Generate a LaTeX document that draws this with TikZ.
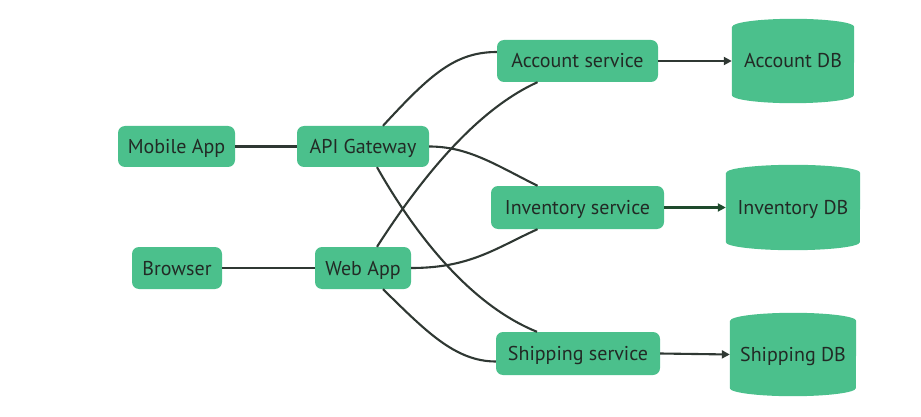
\documentclass[tikz,border=0pt]{standalone}
\usepackage{fontspec}
\setmainfont{PT Sans}
\usetikzlibrary{arrows.meta}
\definecolor{nodegreen}{HTML}{4BC08C}
\definecolor{edgecol}{HTML}{2F3833}
\definecolor{dbarrow}{HTML}{1E4A2C}
\definecolor{txt}{HTML}{222A25}
\tikzset{
  svc/.style={rectangle, rounded corners=7pt, fill=nodegreen, inner sep=0pt,
    font=\fontsize{20}{24}\selectfont, text=txt, text height=14pt, text depth=0pt},
  dbnode/.style={rectangle, inner sep=0pt, font=\fontsize{20}{24}\selectfont, text=txt},
  dblabel/.style={inner sep=0pt, font=\fontsize{20}{24}\selectfont, text=txt, text height=14pt, text depth=0pt},
  link/.style={draw=edgecol, line width=2.1pt},
  arr/.style={draw=edgecol, line width=2.1pt, -{Triangle[length=8pt,width=8pt]}},
}
\begin{document}
\begin{tikzpicture}[x=1pt,y=-1pt]
\useasboundingbox (0,0) rectangle (921,417);
% client nodes
\node[svc, minimum width=117pt, minimum height=41pt] (mob) at (176.5,146.5) {Mobile App};
\node[svc, minimum width=132pt, minimum height=41pt] (gw) at (363,146.5) {API Gateway};
\node[svc, minimum width=90pt, minimum height=42pt] (brw) at (177,268) {Browser};
\node[svc, minimum width=96pt, minimum height=42pt] (web) at (363,268) {Web App};
% services
\node[svc, minimum width=161pt, minimum height=42pt] (acc) at (577.5,61) {Account service};
\node[svc, minimum width=173pt, minimum height=43pt] (inv) at (577.5,207.5) {Inventory service};
\node[svc, minimum width=164pt, minimum height=43pt] (shp) at (578,353.5) {Shipping service};
% databases
\node[dbnode, minimum width=122pt, minimum height=84pt] (adb) at (793,61) {};
\node[dbnode, minimum width=134pt, minimum height=85pt] (idb) at (793,207.5) {};
\node[dbnode, minimum width=126pt, minimum height=83pt] (sdb) at (793,354.5) {};
\foreach \n/\r in {adb/61, idb/67, sdb/63}{
  \fill[nodegreen] ([yshift=-8pt]\n.north west) -- ([yshift=8pt]\n.south west)
    arc[start angle=180, end angle=360, x radius=\r pt, y radius=8pt]
    -- ([yshift=-8pt]\n.north east)
    arc[start angle=0, end angle=180, x radius=\r pt, y radius=8pt] -- cycle;
}
\node[dblabel] (adbt) at (adb) {Account DB};
\node[dblabel] (idbt) at (idb) {Inventory DB};
\node[dblabel] (sdbt) at (sdb) {Shipping DB};
% straight links
\draw[link] (mob) -- (gw);
\draw[link] (brw) -- (web);
% curves
\draw[link] ([xshift=20pt]gw.north) .. controls +(47,-51) and +(-42,0) .. ([yshift=9pt]acc.west);
\draw[link] (gw.east) .. controls +(39,0) and +(-42,-21) .. ([xshift=-40pt]inv.north);
\draw[link] ([xshift=14pt]gw.south) .. controls +(38,67) and +(-67,-27) .. ([xshift=-41pt]shp.north);
\draw[link] ([xshift=14pt]web.north) .. controls +(43,-67) and +(-62,28) .. ([xshift=-40pt]acc.south);
\draw[link] (web.east) .. controls +(59,0) and +(-42,19) .. ([xshift=-40pt]inv.south);
\draw[link] ([xshift=20pt]web.south) .. controls +(42,41) and +(-41,0) .. ([yshift=-8pt]shp.west);
% arrows to DBs
\draw[arr] (acc.east) -- (adb.west);
\draw[arr, draw=dbarrow] (inv.east) -- (idb.west);
\draw[arr] (shp.east) -- (sdb.west);
\end{tikzpicture}
\end{document}
